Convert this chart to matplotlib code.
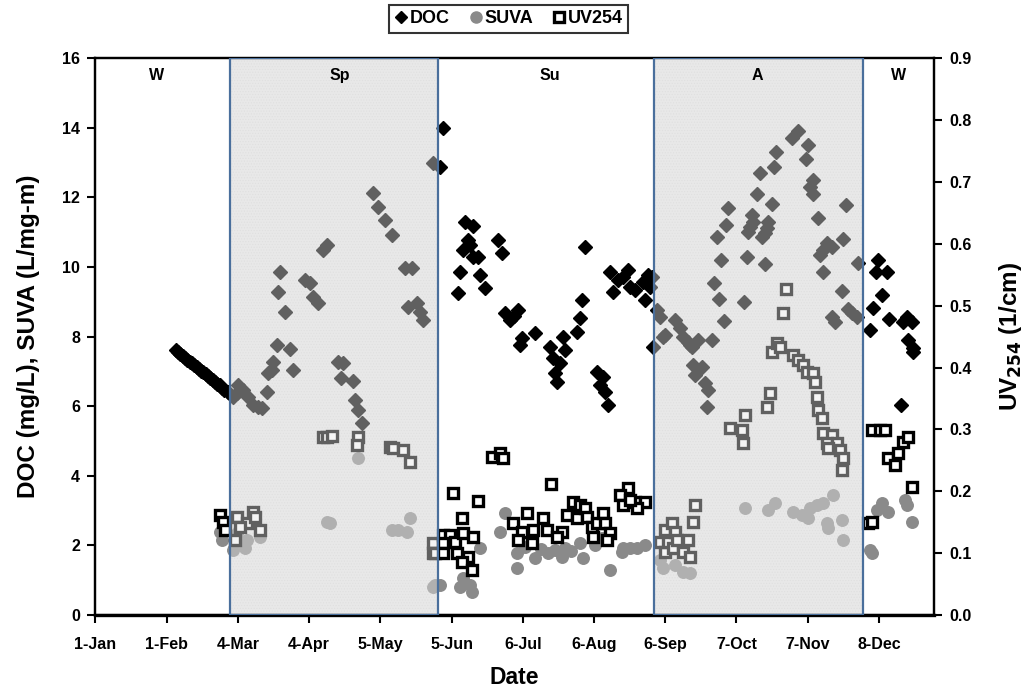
import matplotlib
matplotlib.use("Agg")
import matplotlib.pyplot as plt
from matplotlib.lines import Line2D
from matplotlib import font_manager

# ---- data (day of year) ----
doc_day = [35, 36, 37, 38, 39, 40, 41, 42, 43, 44, 45, 46, 47, 48, 49, 50, 51, 52, 53, 54, 55, 56, 57.5,
           59.9, 61.6, 62.0, 64.2, 66.4, 68.6, 70.7, 72.5, 74.7, 75.1, 76.8, 77.3, 79.0, 84.7, 86.0,
           79.5, 80.3, 82.5, 91.2, 93.4, 94.7, 96.9, 100.8, 99.0, 105.6, 107.8, 106.7, 112.1, 113.0,
           114.3, 116.0, 120.8, 123.0, 126.0, 129.1, 134.7, 137.8, 136.0, 139.9, 141.2, 142.5, 146.9,
           150.0, 151.3,
           160.9, 164.4, 162.2, 163.1, 160.0, 164.4, 166.6, 158.7, 167.4, 169.6, 157.8, 175.2, 176.9,
           178.3, 180.4, 183.9, 182.2, 191.3, 185.7, 184.8, 197.9, 203.5, 204.4, 199.2, 202.3, 200.1,
           201.0, 211.8, 210.9, 209.6, 213.1, 218.3, 220.9, 219.6, 221.8, 223.1, 224.0, 225.3, 227.5,
           229.6, 231.8, 232.7, 234.9, 238.3, 240.5, 239.2, 241.4, 242.3, 242.7,
           244.5, 245.8, 247.1, 248.0, 252.3, 254.5, 255.8, 258.0, 258.9, 259.7, 262.4, 268.5, 260.1,
           264.0, 261.0, 265.3, 266.6, 266.2, 269.3, 271.4, 273.6, 270.6, 274.5, 275.4, 272.3, 282.3,
           283.6, 284.0, 284.9, 285.8, 286.2, 288.0, 289.3, 290.2, 291.5, 292.4, 292.8, 291.5, 294.6,
           295.4, 296.3, 303.3, 305.9, 310.2, 309.4, 311.1, 312.4, 312.4, 314.6, 315.4, 316.7, 318.5,
           320.6, 316.7, 320.6, 321.9, 325.0, 325.4, 326.7, 327.6, 329.3, 331.5, 331.9,
           337.2, 338.5, 339.8, 340.7, 342.4, 344.6, 345.5, 350.7, 351.5, 353.3, 355.5, 353.7, 355.9,
           355.9]
doc_val = [7.62, 7.56, 7.50, 7.45, 7.39, 7.33, 7.28, 7.23, 7.18, 7.12, 7.07, 7.02, 6.98, 6.92, 6.86, 6.80,
           6.75, 6.70, 6.65, 6.60, 6.52, 6.46, 6.40,
           6.26, 6.38, 6.60, 6.46, 6.26, 6.03, 5.98, 5.95, 6.40, 6.95, 7.04, 7.27, 7.76, 7.64, 7.04,
           9.28, 9.85, 8.70, 9.62, 9.55, 9.13, 8.96, 10.63, 10.50, 7.27, 7.24, 6.80, 6.72, 6.18,
           5.89, 5.52, 12.12, 11.72, 11.35, 10.92, 9.97, 9.97, 8.85, 8.96, 8.70, 8.47, 12.98,
           12.87, 13.99,
           11.29, 11.17, 10.77, 10.63, 10.49, 10.28, 10.28, 9.85, 9.77, 9.39, 9.25, 10.77, 10.40,
           8.68, 8.47, 8.76, 8.60, 8.10, 7.96, 7.76, 7.70, 7.99, 7.61, 7.38, 7.24, 6.95,
           6.69, 9.05, 8.53, 8.13, 10.57, 6.98, 6.84, 6.61, 6.41, 6.03, 9.85, 9.28, 9.62,
           9.71, 9.91, 9.42, 9.34, 9.57, 9.77, 9.05, 9.42, 9.71, 7.70,
           8.76, 8.56, 7.99, 8.04, 8.47, 8.24, 7.99, 7.84, 7.76, 7.70, 7.90, 7.90, 7.18,
           7.12, 6.89, 6.66, 6.46, 5.98, 9.54, 9.08, 8.45, 10.86, 11.20, 11.69, 10.20, 8.99,
           10.28, 11.00, 11.15, 11.49, 11.29, 12.09, 12.70, 10.86, 10.97, 11.12, 11.29, 10.08, 11.80,
           12.87, 13.30, 13.70, 13.90, 13.50, 13.10, 12.30, 12.50, 12.09, 11.40, 10.34, 10.49, 10.69,
           10.57, 9.85, 8.56, 8.42, 9.31, 10.80, 11.78, 8.79, 8.68, 8.56, 10.11,
           8.19, 8.82, 9.85, 10.20, 9.19, 9.85, 8.50, 6.03, 8.42, 8.56, 8.42, 7.90, 7.67,
           7.55]

suva_day = [54.2, 55.1, 59.9, 61.6, 66.0, 71.6, 65.1, 100.8, 102.1, 114.3, 129.1, 131.7, 135.6, 136.9,
            146.9, 147.8, 150.0, 158.7, 160.0, 163.9, 163.1, 167.4, 176.1, 178.3, 183.5, 183.5, 191.3,
            197.0, 200.1, 204.4, 203.1, 210.9, 212.2, 217.4, 220.5, 224.0, 229.6, 232.7, 235.7, 239.2,
            229.2, 187.0, 194.0, 207.0, 247.1, 252.3, 255.8, 258.9, 245.8, 282.7, 292.8, 295.9, 303.7,
            307.6, 311.1, 314.1, 316.7, 321.1, 310.2, 318.5, 318.9, 325.0, 325.4, 338.1, 337.2, 340.2,
            342.4, 345.0, 352.4, 353.3, 355.5]
suva_val = [2.38, 2.15, 1.87, 2.36, 2.15, 2.24, 1.92, 2.67, 2.64, 4.51, 2.44, 2.44, 2.38, 2.79,
            0.80, 0.86, 0.86, 0.80, 1.06, 0.66, 0.86, 1.92, 2.38, 2.93, 1.78, 1.35, 1.64,
            1.78, 1.87, 1.92, 1.67, 2.07, 1.64, 2.01, 2.21, 1.29, 1.92, 1.92, 1.92, 2.01,
            1.81, 1.95, 1.90, 1.85, 1.35, 1.44, 1.24, 1.21, 1.58, 3.07, 3.02, 3.22, 2.96,
            2.87, 3.07, 3.16, 3.22, 3.45, 2.79, 2.64, 2.50, 2.73, 2.15, 1.78, 1.87, 3.02,
            3.22, 2.96, 3.30, 3.16, 2.67]

uv_day = [54.2, 55.5, 56.4, 61.6, 66.0, 68.6, 69.4, 71.6, 60.7, 62.9, 99.0, 100.8, 102.9, 114.3, 113.8,
          128.2, 129.5, 133.9, 136.9, 146.9, 146.9, 147.8, 151.3, 154.3, 151.3, 156.5, 160.0, 164.4,
          151.3, 157.4, 162.2, 159.6, 163.9, 155.6, 166.6, 159.6, 172.6, 176.1, 177.4, 198.3,
          181.8, 187.9, 185.7, 183.9, 190.0, 194.8, 190.5, 196.6, 203.1, 200.9, 205.3, 207.9, 210.9,
          209.6, 213.1, 214.0, 216.2, 218.3, 220.9, 221.8, 224.0, 222.7, 216.6,
          231.8, 228.3, 229.6, 234.9, 239.2, 235.7, 232.7,
          245.8, 248.0, 248.0, 249.3, 251.0, 251.5, 252.3, 253.2, 255.8, 258.0, 258.9, 260.1, 261.0,
          276.2, 281.4, 281.9, 282.7, 292.4, 293.7, 300.7, 299.4, 294.6, 296.7, 298.1, 303.7, 305.9,
          308.1, 309.8, 312.4, 313.3, 314.1, 314.6, 316.3, 316.7, 320.6, 318.5, 322.8, 318.9, 324.1,
          325.4, 325.0,
          336.3, 338.1, 338.1, 341.5, 343.7, 345.0, 348.0, 349.4, 351.5, 353.7, 355.5]
uv_val = [0.162, 0.150, 0.137, 0.158, 0.149, 0.166, 0.158, 0.137, 0.121, 0.142, 0.288, 0.288, 0.289,
          0.288, 0.275, 0.271, 0.270, 0.267, 0.247, 0.116, 0.100, 0.100, 0.129, 0.129, 0.116, 0.118,
          0.132, 0.126, 0.100, 0.100, 0.094, 0.086, 0.073, 0.197, 0.184, 0.157, 0.255, 0.262, 0.254,
          0.212,
          0.149, 0.165, 0.134, 0.121, 0.116, 0.157, 0.137, 0.137, 0.134, 0.126, 0.162, 0.183, 0.178,
          0.157, 0.173, 0.158, 0.142, 0.149, 0.165, 0.149, 0.132, 0.121, 0.126,
          0.205, 0.194, 0.178, 0.183, 0.183, 0.173, 0.186,
          0.118, 0.137, 0.102, 0.118, 0.149, 0.108, 0.134, 0.121, 0.102, 0.121, 0.094, 0.150, 0.178,
          0.302, 0.299, 0.278, 0.323, 0.336, 0.359, 0.527, 0.488, 0.425, 0.440, 0.433, 0.420, 0.412,
          0.404, 0.393, 0.391, 0.376, 0.352, 0.331, 0.318, 0.294, 0.291, 0.278, 0.278, 0.270, 0.267,
          0.254, 0.234,
          0.149, 0.150, 0.299, 0.299, 0.299, 0.254, 0.242, 0.262, 0.280, 0.288, 0.207]

tick_days = [0, 31, 62, 93, 124, 155, 186, 217, 248, 279, 310, 341]
tick_labels = ["1-Jan", "1-Feb", "4-Mar", "4-Apr", "5-May", "5-Jun", "6-Jul", "6-Aug",
               "6-Sep", "7-Oct", "7-Nov", "8-Dec"]
shaded_seasons = [(58.5, 149.2), (243.1, 334.3)]
season_names = ["W", "Sp", "Su", "A", "W"]
season_label_days = [26.8, 106.4, 197.9, 288.0, 349.4]

# ---- style ----
installed = {f.name for f in font_manager.fontManager.ttflist}
main_font = ["Liberation Sans", "DejaVu Sans"]
narrow_font = (["Liberation Sans Narrow"] if "Liberation Sans Narrow" in installed else []) + main_font
plt.rcParams["font.family"] = main_font
plt.rcParams["font.weight"] = "bold"
plt.rcParams["hatch.linewidth"] = 0.6

fig = plt.figure(figsize=(10.31, 6.92), dpi=100)
ax = fig.add_axes([0.0926, 0.1113, 0.8133, 0.8045])
ax2 = ax.twinx()

# shaded season background
for a, b in shaded_seasons:
    ax.axvspan(a, b, facecolor="#ebebeb", edgecolor="#dcdcdc", hatch="......", lw=0, zorder=0)

ax.plot(doc_day, doc_val, ls="none", marker="D", ms=7.2, color="black", zorder=3)
ax.plot(suva_day, suva_val, ls="none", marker="o", ms=8.3, mfc="#8a8a8a", mec="#8a8a8a", zorder=2)
ax2.plot(uv_day, uv_val, ls="none", marker="s", ms=7.8, mfc="white", mec="black", mew=2.4, zorder=3)

# translucent layer over the marks inside shaded seasons, with frame
for a, b in shaded_seasons:
    ax2.axvspan(a, b, facecolor="#e6e6e6", alpha=0.42, lw=0, zorder=5)
    ax2.axvspan(a, b, fill=False, edgecolor="#4a6f9c", lw=1.6, zorder=6)

for name, d in zip(season_names, season_label_days):
    ax2.text(d, 0.872, name, ha="center", va="center", fontsize=11.5, fontweight="bold", zorder=7)

ax.set_xlim(0, 365)
ax.set_ylim(0, 16)
ax2.set_ylim(0, 0.9)
ax.set_xticks(tick_days)
ax.set_xticklabels(tick_labels, family=narrow_font, fontsize=11.5, fontweight="bold")
ax.set_yticks(range(0, 17, 2))
ax2.set_yticks([i / 10 for i in range(10)])
ax2.set_yticklabels([f"{i / 10:.1f}" for i in range(10)])

for a_ in (ax, ax2):
    for s in a_.spines.values():
        s.set_linewidth(1.6)
        s.set_color("black")
ax.spines["bottom"].set_linewidth(2.4)
ax.tick_params(axis="both", direction="out", length=6, width=1.5, labelsize=11.5, pad=5)
ax.tick_params(axis="x", pad=10)
ax2.tick_params(axis="y", direction="out", length=6, width=1.5, labelsize=11.5, pad=5)

ax.set_xlabel("Date", fontsize=16.5, fontweight="bold", labelpad=10)
ax.set_ylabel("DOC (mg/L), SUVA (L/mg-m)", fontsize=17.5, fontweight="bold", labelpad=16)
ax2.set_ylabel("UV$_{\\mathbf{254}}$ (1/cm)", fontsize=17.5, fontweight="bold", labelpad=18)

handles = [
    Line2D([], [], ls="none", marker="D", ms=6.5, color="black"),
    Line2D([], [], ls="none", marker="o", ms=8, mfc="#8a8a8a", mec="#8a8a8a"),
    Line2D([], [], ls="none", marker="s", ms=7.5, mfc="white", mec="black", mew=2.4),
]
leg = fig.legend(handles, ["DOC", "SUVA", "UV254"], loc="center", bbox_to_anchor=(0.493, 0.973),
                 ncol=3, frameon=True, fancybox=False, edgecolor="black",
                 handlelength=0.8, handletextpad=0.1, columnspacing=1.0, borderpad=0.3,
                 prop={"weight": "bold", "size": 13})
leg.get_frame().set_linewidth(1.5)

fig.savefig("out.png", dpi=100)
